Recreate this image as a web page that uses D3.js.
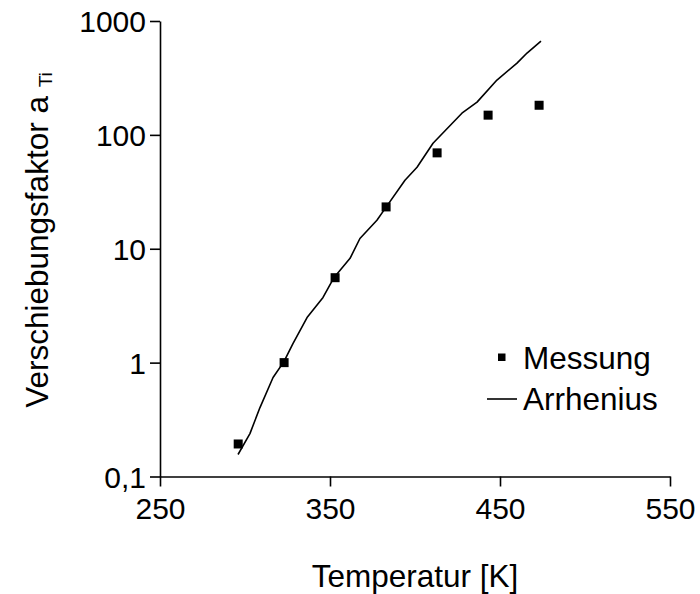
<!DOCTYPE html>
<html>
<head>
<meta charset="utf-8">
<style>
  body {
    margin: 0;
    background: #fff
  }
  svg text {
    font-family: "Liberation Sans", Arial, sans-serif;
    fill: #000
  }
</style>
<script type="text/javascript" src="https://cdnjs.cloudflare.com/ajax/libs/d3/7.8.5/d3.min.js"></script>
</head>
<body>
<svg id="chart"></svg>
<script type="text/javascript">
// Messung
let measT = [296, 323, 353, 383, 413, 443, 473]
let measA = [0.193, 1.0, 5.57, 23.3, 69.5, 149, 182]

// Arrhenius curve
let arrT = [295.9, 302.9, 308.8, 316.5, 322.9, 328.2, 336.5, 345.9, 352.4, 361.8, 367.6,
            377.6, 382.9, 394.1, 401.2, 410.6, 427.6, 436.5, 448.2, 460, 465.9, 474.1]
let arrA = [0.156, 0.238, 0.403, 0.74, 1.02, 1.47, 2.49, 3.74, 5.6, 8.24, 12.3,
            17.8, 23.1, 40, 52, 84.5, 155, 194, 303, 427, 523, 667]

let xTicks = [250, 350, 450, 550]
let yTicks = [0.1, 1, 10, 100, 1000]
let yTickLabels = ['0,1', '1', '10', '100', '1000']

let width = 700,
    height = 594,
    margin = {top: 21, right: 30, bottom: 118, left: 160}

let fs = 30

let svg = d3.select('#chart')
    .attr('width', width)
    .attr('height', height)

let x = d3.scaleLinear()
    .domain([250, 550])
    .range([margin.left, width - margin.right])

let y = d3.scaleLog()
    .domain([0.1, 1000])
    .range([height - margin.bottom + 0.5, margin.top])

let xAxis = svg.append('g')
    .attr('transform', 'translate(0,' + y(0.1) + ')')
    .call(d3.axisBottom(x).tickValues(xTicks).tickSize(10).tickSizeOuter(0).tickPadding(10))

let yAxis = svg.append('g')
    .attr('transform', 'translate(' + x(250) + ',0)')
    .call(d3.axisLeft(y).tickValues(yTicks).tickSize(10).tickSizeOuter(0).tickPadding(4)
      .tickFormat(function(d, i) { return yTickLabels[i] }))

svg.selectAll('.domain, .tick line')
    .attr('stroke', '#000')
    .attr('stroke-width', 1.6)

svg.selectAll('.tick text')
    .attr('font-size', fs)
    .attr('font-family', '"Liberation Sans", Arial, sans-serif')
    .attr('fill', '#000')

yAxis.selectAll('.tick text').attr('dy', '0.36em')
xAxis.selectAll('.tick text').attr('dy', '0.76em')

// Arrhenius line
let line = d3.line()
    .x(function(d) { return x(d[0]) })
    .y(function(d) { return y(d[1]) })

svg.append('path')
    .datum(d3.zip(arrT, arrA))
    .attr('fill', 'none')
    .attr('stroke', '#000')
    .attr('stroke-width', 1.6)
    .attr('stroke-linejoin', 'round')
    .attr('d', line)

// Messung markers
let ms = 9
svg.selectAll('rect.meas')
    .data(d3.zip(measT, measA))
    .enter()
    .append('rect')
    .attr('class', 'meas')
    .attr('x', function(d) { return x(d[0]) - ms / 2 })
    .attr('y', function(d) { return y(d[1]) - ms / 2 })
    .attr('width', ms)
    .attr('height', ms)
    .attr('fill', '#000')

// legend
let lg = svg.append('g')
lg.append('rect')
    .attr('x', 498).attr('y', 353.5)
    .attr('width', 7.5).attr('height', 7.5)
    .attr('fill', '#000')
lg.append('text')
    .attr('x', 523).attr('y', 369)
    .attr('font-size', 31.5)
    .text('Messung')
lg.append('line')
    .attr('x1', 487).attr('x2', 517)
    .attr('y1', 399).attr('y2', 399)
    .attr('stroke', '#000')
    .attr('stroke-width', 1.6)
lg.append('text')
    .attr('x', 523).attr('y', 410)
    .attr('font-size', 31.5)
    .text('Arrhenius')

// axis titles
svg.append('text')
    .attr('x', (x(250) + x(550)) / 2)
    .attr('y', 587)
    .attr('text-anchor', 'middle')
    .attr('font-size', 31.5)
    .text('Temperatur [K]')

let yt = svg.append('text')
    .attr('transform', 'translate(48,240) rotate(-90)')
    .attr('text-anchor', 'middle')
    .attr('font-size', 31.5)
yt.append('tspan').text('Verschiebungsfaktor a ')
yt.append('tspan')
    .attr('font-size', 19)
    .attr('dy', 4)
    .text('Ti')
</script>
</body>
</html>
